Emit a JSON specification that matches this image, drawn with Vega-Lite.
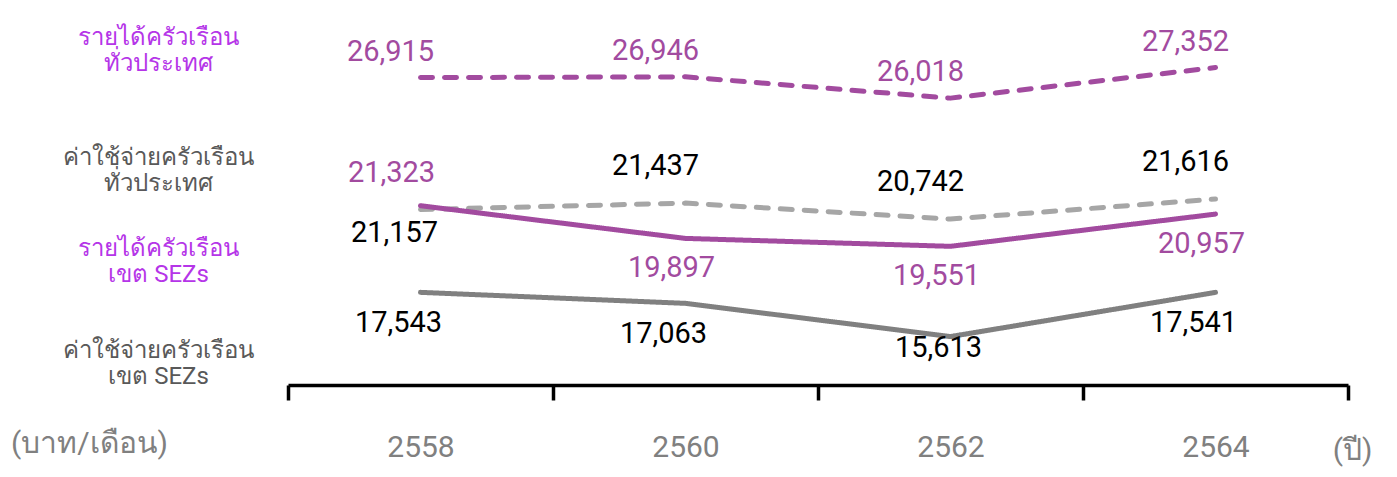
{
  "$schema": "https://vega.github.io/schema/vega-lite/v6.json",
  "width": 1060,
  "height": 385,
  "autosize": {"type": "none"},
  "padding": {"left": 288, "top": 0, "right": 49, "bottom": 92},
  "background": "white",
  "data": {
    "values": [
      {"year": "2558", "series": "national income", "value": 26915},
      {"year": "2560", "series": "national income", "value": 26946},
      {"year": "2562", "series": "national income", "value": 26018},
      {"year": "2564", "series": "national income", "value": 27352},
      {"year": "2558", "series": "national expenditure", "value": 21157},
      {"year": "2560", "series": "national expenditure", "value": 21437},
      {"year": "2562", "series": "national expenditure", "value": 20742},
      {"year": "2564", "series": "national expenditure", "value": 21616},
      {"year": "2558", "series": "SEZ income", "value": 21323},
      {"year": "2560", "series": "SEZ income", "value": 19897},
      {"year": "2562", "series": "SEZ income", "value": 19551},
      {"year": "2564", "series": "SEZ income", "value": 20957},
      {"year": "2558", "series": "SEZ expenditure", "value": 17543},
      {"year": "2560", "series": "SEZ expenditure", "value": 17063},
      {"year": "2562", "series": "SEZ expenditure", "value": 15613},
      {"year": "2564", "series": "SEZ expenditure", "value": 17541}
    ]
  },
  "encoding": {
    "x": {
      "field": "year",
      "type": "ordinal",
      "scale": {"type": "band", "paddingInner": 0, "paddingOuter": 0},
      "axis": {
        "title": "(ปี)",
        "titleX": 1064,
        "titleY": 65,
        "titleAlign": "center",
        "titleBaseline": "middle",
        "titleFontSize": 30,
        "titleFontWeight": "normal",
        "titleColor": "#808080",
        "titleFont": "Roboto",
        "tickBand": "extent",
        "domainColor": "#000000",
        "domainWidth": 3.5,
        "tickColor": "#000000",
        "tickWidth": 3.5,
        "tickSize": 15,
        "labelAngle": 0,
        "labelFontSize": 30,
        "labelFont": "Roboto",
        "labelColor": "#808080",
        "labelPadding": 32,
        "grid": false
      }
    },
    "y": {
      "field": "value",
      "type": "quantitative",
      "scale": {"domain": [13500, 30300], "zero": false, "nice": false},
      "axis": {
        "title": "(บาท/เดือน)",
        "titleAngle": 0,
        "titleX": -199,
        "titleY": 443,
        "titleAlign": "center",
        "titleBaseline": "middle",
        "titleFontSize": 30,
        "titleFontWeight": "normal",
        "titleColor": "#808080",
        "titleFont": "Roboto",
        "values": [28642, 23449, 19478, 14984],
        "labelExpr": "datum.value > 25000 ? ['รายได้ครัวเรือน', 'ทั่วประเทศ'] : datum.value > 20000 ? ['ค่าใช้จ่ายครัวเรือน', 'ทั่วประเทศ'] : datum.value > 16000 ? ['รายได้ครัวเรือน', 'เขต SEZs'] : ['ค่าใช้จ่ายครัวเรือน', 'เขต SEZs']",
        "domain": false,
        "ticks": false,
        "tickSize": 0,
        "grid": false,
        "labelAlign": "center",
        "labelBaseline": "middle",
        "labelPadding": 130,
        "labelFontSize": 24,
        "labelFont": "Roboto",
        "labelLineHeight": 26,
        "labelLimit": 0,
        "labelOverlap": false,
        "labelFlush": false,
        "labelBound": false,
        "labelColor": {
          "condition": {"test": "datum.value > 25000 || (datum.value < 20000 && datum.value > 16000)", "value": "#b535e8"},
          "value": "#595959"
        }
      }
    }
  },
  "layer": [
    {
      "mark": {"type": "line", "strokeWidth": 5, "strokeCap": "round", "strokeJoin": "round"},
      "encoding": {
        "x": {"field": "year", "type": "ordinal", "bandPosition": 0.5},
        "color": {
          "field": "series",
          "type": "nominal",
          "scale": {
            "domain": ["national income", "national expenditure", "SEZ income", "SEZ expenditure"],
            "range": ["#a24b9f", "#a6a6a6", "#a24b9f", "#808080"]
          },
          "legend": null
        },
        "strokeDash": {
          "field": "series",
          "type": "nominal",
          "scale": {
            "domain": ["national income", "national expenditure", "SEZ income", "SEZ expenditure"],
            "range": [[12, 12], [12, 12], [1, 0], [1, 0]]
          },
          "legend": null
        }
      }
    },
    {
      "transform": [{"filter": "datum.series == 'national income'"}],
      "mark": {"type": "text", "dx": -30, "dy": -26, "fontSize": 29, "font": "Roboto", "color": "#a24b9f", "baseline": "middle"},
      "encoding": {"text": {"field": "value", "format": ","}}
    },
    {
      "transform": [{"filter": "datum.series == 'national expenditure' && datum.year != '2558'"}],
      "mark": {"type": "text", "dx": -30, "dy": -37, "fontSize": 29, "font": "Roboto", "color": "#000000", "baseline": "middle"},
      "encoding": {"text": {"field": "value", "format": ","}}
    },
    {
      "transform": [{"filter": "datum.series == 'national expenditure' && datum.year == '2558'"}],
      "mark": {"type": "text", "dx": -26, "dy": 23, "fontSize": 29, "font": "Roboto", "color": "#000000", "baseline": "middle"},
      "encoding": {"text": {"field": "value", "format": ","}}
    },
    {
      "transform": [{"filter": "datum.series == 'SEZ income' && datum.year != '2558'"}],
      "mark": {"type": "text", "dx": -14, "dy": 30, "fontSize": 29, "font": "Roboto", "color": "#a24b9f", "baseline": "middle"},
      "encoding": {"text": {"field": "value", "format": ","}}
    },
    {
      "transform": [{"filter": "datum.series == 'SEZ income' && datum.year == '2558'"}],
      "mark": {"type": "text", "dx": -29, "dy": -33, "fontSize": 29, "font": "Roboto", "color": "#a24b9f", "baseline": "middle"},
      "encoding": {"text": {"field": "value", "format": ","}}
    },
    {
      "transform": [{"filter": "datum.series == 'SEZ expenditure' && datum.year != '2562'"}],
      "mark": {"type": "text", "dx": -22, "dy": 31, "fontSize": 29, "font": "Roboto", "color": "#000000", "baseline": "middle"},
      "encoding": {"text": {"field": "value", "format": ","}}
    },
    {
      "transform": [{"filter": "datum.series == 'SEZ expenditure' && datum.year == '2562'"}],
      "mark": {"type": "text", "dx": -12, "dy": 11, "fontSize": 29, "font": "Roboto", "color": "#000000", "baseline": "middle"},
      "encoding": {"text": {"field": "value", "format": ","}}
    }
  ],
  "config": {
    "view": {"stroke": null}
  }
}
